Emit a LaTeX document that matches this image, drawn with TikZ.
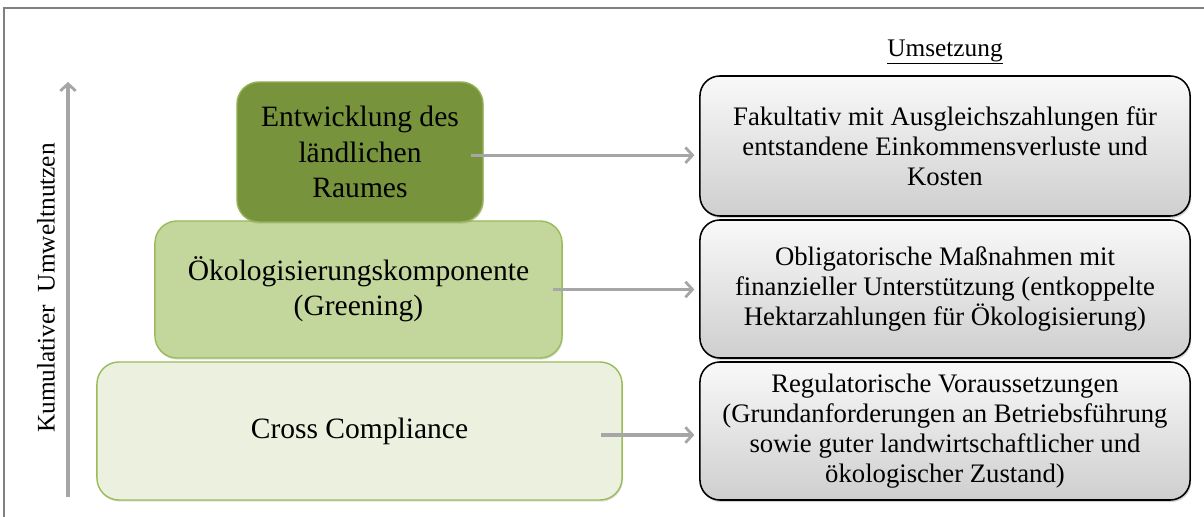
\documentclass[tikz,border=0pt]{standalone}
\usepackage{fontspec}
\setmainfont{Liberation Serif}
\usetikzlibrary{arrows.meta,shadows}
\definecolor{olivedark}{HTML}{77933C}
\definecolor{olivemid}{HTML}{C3D69B}
\definecolor{olivelight}{HTML}{EBF1DE}
\definecolor{oliveline}{HTML}{9BBB59}
\begin{document}
\begin{tikzpicture}[x=0.025cm,y=-0.025cm,
  level/.style={rounded corners=0.55cm,draw=oliveline,line width=1pt,align=center,
    font=\fontsize{21}{25}\selectfont,
    drop shadow={opacity=0.25,shadow xshift=0.6pt,shadow yshift=-1.2pt}},
  measure/.style={rounded corners=0.5cm,draw=black,line width=1.1pt,align=center,
    top color=gray!5,bottom color=gray!38,minimum width=12.25cm,
    font=\fontsize{19}{21.5}\selectfont,
    drop shadow={opacity=0.35,shadow xshift=0.8pt,shadow yshift=-1.5pt}},
  arr/.style={gray!70,line width=2.2pt,-{Straight Barb[length=5pt,width=11pt,line width=2pt]}}]
\useasboundingbox (0,0) rectangle (1204,517);
\draw[gray,line width=1.5pt] (4,517) -- (4,8) -- (1204,8);
% Saeule links
\node[level,fill=olivelight,minimum width=13.125cm,minimum height=3.45cm] (cc) at (359.5,431) {Cross Compliance};
\node[level,fill=olivemid,minimum width=10.175cm,minimum height=3.425cm] (green) at (358.5,289.5)
  {Ökologisierungskomponente\\(Greening)};
\node[level,fill=olivedark,draw=oliveline!80!olivedark,minimum width=6.15cm,minimum height=3.5cm] (dev) at (360,152)
  {Entwicklung des\\ländlichen\\Raumes};
% Umsetzung rechts
\node[font=\fontsize{18}{21}\selectfont] (head) at (945,52) {\underline{Umsetzung}};
\node[measure,minimum height=3.5cm] (fak) at (945,146)
  {Fakultativ mit Ausgleichszahlungen für\\entstandene Einkommensverluste und\\Kosten};
\node[measure,minimum height=3.45cm] (obl) at (945,289)
  {Obligatorische Maßnahmen mit\\finanzieller Unterstützung (entkoppelte\\Hektarzahlungen für Ökologisierung)};
\node[measure,minimum height=3.45cm] (reg) at (945,431)
  {Regulatorische Voraussetzungen\\(Grundanforderungen an Betriebsführung\\sowie guter landwirtschaftlicher und\\ökologischer Zustand)};
\draw[arr] ([xshift=-0.33cm,yshift=-0.08cm]dev.east) -- ([xshift=-0.12cm,yshift=-0.08cm]dev.east -| fak.west);
\draw[arr] ([xshift=-0.25cm]green.east) -- ([xshift=-0.12cm]green.east -| obl.west);
\draw[arr] ([xshift=-0.55cm,yshift=-0.1cm]cc.east) -- ([xshift=-0.12cm,yshift=-0.1cm]cc.east -| reg.west);
% Achse
\coordinate (bot) at (68,497);
\coordinate (top) at (68,82);
\draw[arr] (bot) -- (top);
\node[rotate=90,font=\fontsize{18}{21}\selectfont] (axis) at (46,288) {Kumulativer\ \ Umweltnutzen};
\end{tikzpicture}
\end{document}
